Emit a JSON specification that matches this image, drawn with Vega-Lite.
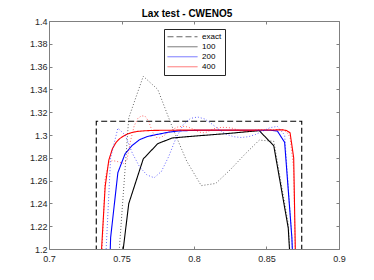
{
  "$schema": "https://vega.github.io/schema/vega-lite/v6.json",
  "width": 290,
  "height": 228,
  "autosize": {"type": "none"},
  "padding": {"left": 49, "top": 21, "right": 35, "bottom": 31},
  "title": {"text": "Lax test - CWENO5", "fontSize": 10, "fontWeight": "bold", "font": "Liberation Sans", "color": "#000000", "offset": -2, "dx": -7},
  "config": {
    "view": {"stroke": null},
    "axis": {"grid": false, "title": null, "domainColor": "#808080", "tickColor": "#808080", "labelColor": "#262626", "labelFont": "Liberation Sans", "labelFontSize": 9, "labelFlush": false, "tickSize": -3, "format": ".2~f"}
  },
  "datasets": {
    "solid": [
      {"series": "exact", "x": 0.7326, "y": 1.19},
      {"series": "exact", "x": 0.7326, "y": 1.312},
      {"series": "exact", "x": 0.8743, "y": 1.312},
      {"series": "exact", "x": 0.8743, "y": 1.19},
      {"series": "100", "x": 0.745, "y": 1.135},
      {"series": "100", "x": 0.755, "y": 1.2398},
      {"series": "100", "x": 0.765, "y": 1.279},
      {"series": "100", "x": 0.775, "y": 1.2924},
      {"series": "100", "x": 0.785, "y": 1.2974},
      {"series": "100", "x": 0.795, "y": 1.2985},
      {"series": "100", "x": 0.805, "y": 1.2995},
      {"series": "100", "x": 0.815, "y": 1.3005},
      {"series": "100", "x": 0.825, "y": 1.3015},
      {"series": "100", "x": 0.835, "y": 1.3027},
      {"series": "100", "x": 0.845, "y": 1.3038},
      {"series": "100", "x": 0.855, "y": 1.2906},
      {"series": "100", "x": 0.865, "y": 1.2184},
      {"series": "100", "x": 0.875, "y": 1.0},
      {"series": "200", "x": 0.7375, "y": 1.0},
      {"series": "200", "x": 0.7425, "y": 1.21},
      {"series": "200", "x": 0.7475, "y": 1.267},
      {"series": "200", "x": 0.7525, "y": 1.2836},
      {"series": "200", "x": 0.7575, "y": 1.291},
      {"series": "200", "x": 0.7625, "y": 1.2959},
      {"series": "200", "x": 0.7675, "y": 1.2985},
      {"series": "200", "x": 0.7725, "y": 1.3},
      {"series": "200", "x": 0.7775, "y": 1.3012},
      {"series": "200", "x": 0.7825, "y": 1.3025},
      {"series": "200", "x": 0.7875, "y": 1.3033},
      {"series": "200", "x": 0.7925, "y": 1.3038},
      {"series": "200", "x": 0.8025, "y": 1.3041},
      {"series": "200", "x": 0.8225, "y": 1.3042},
      {"series": "200", "x": 0.8425, "y": 1.3042},
      {"series": "200", "x": 0.8525, "y": 1.3042},
      {"series": "200", "x": 0.8575, "y": 1.3035},
      {"series": "200", "x": 0.8625, "y": 1.2936},
      {"series": "200", "x": 0.8675, "y": 1.21},
      {"series": "200", "x": 0.8725, "y": 1.05},
      {"series": "400", "x": 0.73375, "y": 1.09},
      {"series": "400", "x": 0.73625, "y": 1.2},
      {"series": "400", "x": 0.73875, "y": 1.255},
      {"series": "400", "x": 0.74125, "y": 1.278},
      {"series": "400", "x": 0.74375, "y": 1.288},
      {"series": "400", "x": 0.74625, "y": 1.2935},
      {"series": "400", "x": 0.74875, "y": 1.2968},
      {"series": "400", "x": 0.75125, "y": 1.299},
      {"series": "400", "x": 0.75375, "y": 1.3007},
      {"series": "400", "x": 0.75625, "y": 1.3018},
      {"series": "400", "x": 0.75875, "y": 1.3026},
      {"series": "400", "x": 0.76125, "y": 1.3032},
      {"series": "400", "x": 0.76625, "y": 1.3037},
      {"series": "400", "x": 0.77125, "y": 1.304},
      {"series": "400", "x": 0.78125, "y": 1.3042},
      {"series": "400", "x": 0.80125, "y": 1.3043},
      {"series": "400", "x": 0.82125, "y": 1.3043},
      {"series": "400", "x": 0.84125, "y": 1.3043},
      {"series": "400", "x": 0.86125, "y": 1.3045},
      {"series": "400", "x": 0.86375, "y": 1.304},
      {"series": "400", "x": 0.86625, "y": 1.302},
      {"series": "400", "x": 0.86875, "y": 1.28},
      {"series": "400", "x": 0.87125, "y": 1.1}
    ],
    "dotted": [
      {"series": "100", "x": 0.745, "y": 1.138},
      {"series": "100", "x": 0.755, "y": 1.315},
      {"series": "100", "x": 0.765, "y": 1.3515},
      {"series": "100", "x": 0.775, "y": 1.34},
      {"series": "100", "x": 0.785, "y": 1.307},
      {"series": "100", "x": 0.795, "y": 1.277},
      {"series": "100", "x": 0.805, "y": 1.2556},
      {"series": "100", "x": 0.815, "y": 1.2575},
      {"series": "100", "x": 0.825, "y": 1.2695},
      {"series": "100", "x": 0.835, "y": 1.283},
      {"series": "100", "x": 0.845, "y": 1.2955},
      {"series": "100", "x": 0.855, "y": 1.2945},
      {"series": "100", "x": 0.865, "y": 1.222},
      {"series": "100", "x": 0.875, "y": 1.0},
      {"series": "200", "x": 0.7375, "y": 1.15},
      {"series": "200", "x": 0.7425, "y": 1.28},
      {"series": "200", "x": 0.7475, "y": 1.306},
      {"series": "200", "x": 0.7525, "y": 1.3},
      {"series": "200", "x": 0.7575, "y": 1.284},
      {"series": "200", "x": 0.7625, "y": 1.272},
      {"series": "200", "x": 0.7675, "y": 1.265},
      {"series": "200", "x": 0.7725, "y": 1.2625},
      {"series": "200", "x": 0.7775, "y": 1.268},
      {"series": "200", "x": 0.7825, "y": 1.281},
      {"series": "200", "x": 0.7875, "y": 1.297},
      {"series": "200", "x": 0.7925, "y": 1.309},
      {"series": "200", "x": 0.7975, "y": 1.3145},
      {"series": "200", "x": 0.8025, "y": 1.3158},
      {"series": "200", "x": 0.8075, "y": 1.314},
      {"series": "200", "x": 0.8125, "y": 1.3095},
      {"series": "200", "x": 0.8175, "y": 1.3045},
      {"series": "200", "x": 0.8225, "y": 1.3005},
      {"series": "200", "x": 0.8275, "y": 1.2985},
      {"series": "200", "x": 0.8325, "y": 1.2978},
      {"series": "200", "x": 0.8375, "y": 1.2985},
      {"series": "200", "x": 0.8425, "y": 1.3005},
      {"series": "200", "x": 0.8475, "y": 1.3035},
      {"series": "200", "x": 0.8525, "y": 1.3065},
      {"series": "200", "x": 0.8575, "y": 1.3075},
      {"series": "200", "x": 0.8625, "y": 1.3},
      {"series": "200", "x": 0.8675, "y": 1.21},
      {"series": "200", "x": 0.8725, "y": 1.05},
      {"series": "400", "x": 0.73375, "y": 1.05},
      {"series": "400", "x": 0.73625, "y": 1.19},
      {"series": "400", "x": 0.73875, "y": 1.262},
      {"series": "400", "x": 0.74125, "y": 1.276},
      {"series": "400", "x": 0.74375, "y": 1.2775},
      {"series": "400", "x": 0.74625, "y": 1.277},
      {"series": "400", "x": 0.74875, "y": 1.2762},
      {"series": "400", "x": 0.75125, "y": 1.275},
      {"series": "400", "x": 0.75375, "y": 1.278},
      {"series": "400", "x": 0.75625, "y": 1.295},
      {"series": "400", "x": 0.75875, "y": 1.308},
      {"series": "400", "x": 0.76125, "y": 1.3145},
      {"series": "400", "x": 0.76375, "y": 1.3168},
      {"series": "400", "x": 0.76625, "y": 1.3165},
      {"series": "400", "x": 0.76875, "y": 1.312},
      {"series": "400", "x": 0.77125, "y": 1.303},
      {"series": "400", "x": 0.77375, "y": 1.298},
      {"series": "400", "x": 0.77625, "y": 1.2975},
      {"series": "400", "x": 0.77875, "y": 1.299},
      {"series": "400", "x": 0.78125, "y": 1.3015},
      {"series": "400", "x": 0.78375, "y": 1.3035},
      {"series": "400", "x": 0.78625, "y": 1.3055},
      {"series": "400", "x": 0.78875, "y": 1.307},
      {"series": "400", "x": 0.79125, "y": 1.3076},
      {"series": "400", "x": 0.79375, "y": 1.3075},
      {"series": "400", "x": 0.79625, "y": 1.3068},
      {"series": "400", "x": 0.79875, "y": 1.3055},
      {"series": "400", "x": 0.80125, "y": 1.304},
      {"series": "400", "x": 0.80375, "y": 1.3025},
      {"series": "400", "x": 0.80625, "y": 1.302},
      {"series": "400", "x": 0.80875, "y": 1.3025},
      {"series": "400", "x": 0.81125, "y": 1.304},
      {"series": "400", "x": 0.81375, "y": 1.3055},
      {"series": "400", "x": 0.81625, "y": 1.3063},
      {"series": "400", "x": 0.81875, "y": 1.3066},
      {"series": "400", "x": 0.82125, "y": 1.3067},
      {"series": "400", "x": 0.82375, "y": 1.3065},
      {"series": "400", "x": 0.82625, "y": 1.306},
      {"series": "400", "x": 0.82875, "y": 1.305},
      {"series": "400", "x": 0.83125, "y": 1.304},
      {"series": "400", "x": 0.83375, "y": 1.303},
      {"series": "400", "x": 0.83625, "y": 1.3028},
      {"series": "400", "x": 0.83875, "y": 1.3032},
      {"series": "400", "x": 0.84125, "y": 1.304},
      {"series": "400", "x": 0.84375, "y": 1.3045},
      {"series": "400", "x": 0.84875, "y": 1.3045},
      {"series": "400", "x": 0.85375, "y": 1.3045},
      {"series": "400", "x": 0.85875, "y": 1.3048},
      {"series": "400", "x": 0.86125, "y": 1.3045},
      {"series": "400", "x": 0.86375, "y": 1.303},
      {"series": "400", "x": 0.86625, "y": 1.298},
      {"series": "400", "x": 0.86875, "y": 1.27},
      {"series": "400", "x": 0.87125, "y": 1.1}
    ]
  },
  "layer": [
    {
      "data": {"name": "solid"},
      "mark": {"type": "line", "clip": true, "strokeWidth": 1.1},
      "encoding": {
        "x": {"field": "x", "type": "quantitative", "scale": {"domain": [0.7, 0.9], "nice": false, "zero": false},
              "axis": {"orient": "bottom", "values": [0.7, 0.75, 0.8, 0.85, 0.9], "labelPadding": 8}},
        "y": {"field": "y", "type": "quantitative", "scale": {"domain": [1.2, 1.4], "nice": false, "zero": false},
              "axis": {"orient": "left", "values": [1.2, 1.22, 1.24, 1.26, 1.28, 1.3, 1.32, 1.34, 1.36, 1.38, 1.4], "labelPadding": 5}},
        "color": {"field": "series", "type": "nominal",
                  "scale": {"domain": ["exact", "100", "200", "400"], "range": ["#000000", "#000000", "#0000ff", "#ff0000"]},
                  "legend": {"orient": "none", "legendX": 115, "legendY": 8, "title": null, "symbolType": "stroke", "symbolSize": 900, "symbolStrokeWidth": 1, "clipHeight": 9.5, "rowPadding": 0, "labelFontSize": 8, "labelFont": "Liberation Sans", "labelColor": "#000000", "labelOffset": 4, "padding": 3, "strokeColor": "#262626", "fillColor": "#ffffff"}},
        "strokeDash": {"field": "series", "type": "nominal",
                       "scale": {"domain": ["exact", "100", "200", "400"], "range": [[6, 3], [1, 0], [1, 0], [1, 0]]},
                       "legend": {"orient": "none", "legendX": 115, "legendY": 8, "title": null, "symbolType": "stroke", "symbolSize": 900, "symbolStrokeWidth": 1, "clipHeight": 9.5, "rowPadding": 0, "labelFontSize": 8, "labelFont": "Liberation Sans", "labelColor": "#000000", "labelOffset": 4, "padding": 3, "strokeColor": "#262626", "fillColor": "#ffffff"}},
        "order": {"value": null}
      }
    },
    {
      "data": {"name": "dotted"},
      "mark": {"type": "line", "clip": true, "strokeWidth": 1, "strokeDash": [1, 2], "opacity": 0.6},
      "encoding": {
        "x": {"field": "x", "type": "quantitative", "axis": {"orient": "top", "labels": false, "values": [0.7, 0.75, 0.8, 0.85, 0.9]}},
        "y": {"field": "y", "type": "quantitative", "axis": {"orient": "right", "labels": false, "values": [1.2, 1.22, 1.24, 1.26, 1.28, 1.3, 1.32, 1.34, 1.36, 1.38, 1.4]}},
        "color": {"field": "series", "type": "nominal"},
        "order": {"value": null}
      }
    }
  ],
  "resolve": {"axis": {"x": "independent", "y": "independent"}}
}
